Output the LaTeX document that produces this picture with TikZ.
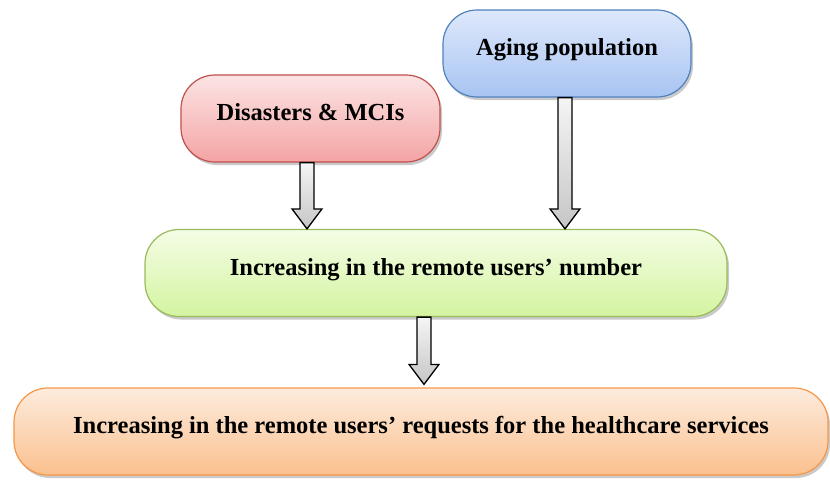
\documentclass[tikz,border=0pt]{standalone}
\usepackage{fontspec}
\setmainfont{Liberation Serif}
\usetikzlibrary{calc,shadows}
\definecolor{redline}{RGB}{192,80,77}
\definecolor{redtop}{RGB}{252,228,228}
\definecolor{redbot}{RGB}{244,164,164}
\definecolor{blueline}{RGB}{79,129,189}
\definecolor{bluetop}{RGB}{222,232,251}
\definecolor{bluebot}{RGB}{168,196,242}
\definecolor{greenline}{RGB}{155,187,89}
\definecolor{greentop}{RGB}{244,253,230}
\definecolor{greenbot}{RGB}{212,244,160}
\definecolor{orangeline}{RGB}{247,150,70}
\definecolor{orangetop}{RGB}{253,236,222}
\definecolor{orangebot}{RGB}{251,192,142}
\newcommand{\blockarrow}[2]{%
  \draw[bigarrow] let \p1=(#1), \p2=(#2) in
    (\x1-7pt,\y1) -- (\x1+7pt,\y1) -- (\x1+7pt,\y2+20pt) -- (\x1+15pt,\y2+20pt)
    -- (\x1,\y2) -- (\x1-15pt,\y2+20pt) -- (\x1-7pt,\y2+20pt) -- cycle;}
\begin{document}
\begin{tikzpicture}[x=1pt,y=1pt,
  box/.style={rounded corners=34pt, line width=1.2pt, minimum height=87pt, inner sep=0pt,
    font=\fontsize{24.5}{28}\selectfont\bfseries, text height=14pt, text depth=10pt,
    drop shadow={shadow xshift=2pt, shadow yshift=-3pt, opacity=0.35, fill=black!60}},
  bigarrow/.style={draw=black, line width=1.3pt, top color=gray!8, bottom color=gray!45, line join=miter}]
\useasboundingbox (0,0) rectangle (830,-480);

\node[box, draw=redline, top color=redtop, bottom color=redbot, minimum width=259pt]
  (disasters) at (310.5,-118.5) {Disasters \& MCIs};
\node[box, draw=blueline, top color=bluetop, bottom color=bluebot, minimum width=248pt]
  (aging) at (567,-53.5) {Aging population};
\node[box, draw=greenline, top color=greentop, bottom color=greenbot, minimum width=582pt]
  (users) at (436,-273) {Increasing in the remote users’ number};
\node[box, draw=orangeline, top color=orangetop, bottom color=orangebot, minimum width=814pt]
  (requests) at (421,-431.5) {Increasing in the remote users’ requests for the healthcare services};

\blockarrow{[xshift=-3.5pt]disasters.south}{users.north}
\blockarrow{[xshift=-2pt]aging.south}{users.north}
\blockarrow{[xshift=-12pt]users.south}{[yshift=3pt]requests.north}
\end{tikzpicture}
\end{document}
